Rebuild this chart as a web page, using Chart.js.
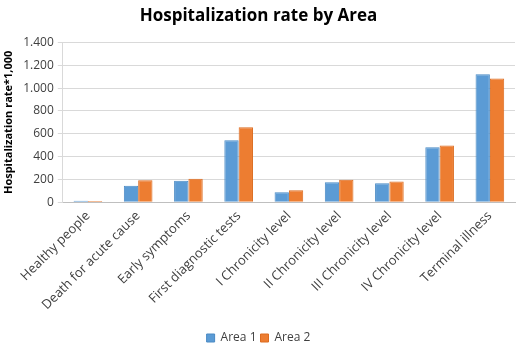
<!DOCTYPE html>
<html><head><meta charset="utf-8">
<script src="https://cdn.jsdelivr.net/npm/chart.js@4"></script>
<style>html,body{margin:0;padding:0;background:#fff}#wrap{width:518px;height:345px}</style>
</head><body><div id="wrap"><canvas id="c" width="518" height="345"></canvas></div>
<script>
const categories = ["Healthy people","Death for acute cause","Early symptoms","First diagnostic tests","I Chronicity level","II Chronicity level","III Chronicity level","IV Chronicity level","Terminal illness"];
const area1 = [13,144,188,543,88,176,167,482,1122];
const area2 = [12,194,206,658,106,197,182,497,1084];
const yTicks = [0,200,400,600,800,1000,1200,1400];
const FONT = "'Open Sans', 'Liberation Sans', sans-serif";
new Chart(document.getElementById('c'), {
  type: 'bar',
  data: {labels: categories, datasets: [
    {label:'Area 1', data: area1, backgroundColor:'#5B9BD5', borderColor:'#4A8AC4', borderWidth:1},
    {label:'Area 2', data: area2, backgroundColor:'#ED7D31', borderColor:'#DC6C20', borderWidth:1}
  ]},
  options: {
    responsive:false, animation:false,
    layout:{padding:{left:2,right:3,top:4,bottom:-9}},
    datasets:{bar:{categoryPercentage:0.57, barPercentage:1}},
    plugins:{
      title:{display:true, text:'Hospitalization rate by Area', color:'#000', font:{family:FONT, size:17, weight:'bold'}, padding:{top:2,bottom:16}},
      legend:{position:'bottom', labels:{boxWidth:8, boxHeight:8, color:'#404040', font:{family:FONT,size:12}, padding:4}},
      tooltip:{enabled:false}
    },
    scales:{
      x:{grid:{display:false, drawTicks:false}, border:{color:'#BFBFBF'},
         afterFit:(ax)=>{ax.height += 9;},
         ticks:{color:'#404040', maxRotation:45, minRotation:45, font:{family:FONT,size:13}, padding:6}},
      y:{min:0, max:1400, afterBuildTicks:(ax)=>{ax.ticks = yTicks.map(v=>({value:v}));},
         grid:{color:'#D9D9D9', tickLength:5}, border:{display:true,color:'#D9D9D9'},
         ticks:{color:'#404040', font:{family:FONT,size:12}, padding:4,
           callback:(v)=>String(v).replace(/\B(?=(\d{3})+(?!\d))/g,'.')},
         title:{display:true, text:'Hospitalization rate*1,000', color:'#000', font:{family:FONT,size:11,weight:'bold'}, padding:{top:0,bottom:4}}}
    }
  }
});
</script></body></html>
